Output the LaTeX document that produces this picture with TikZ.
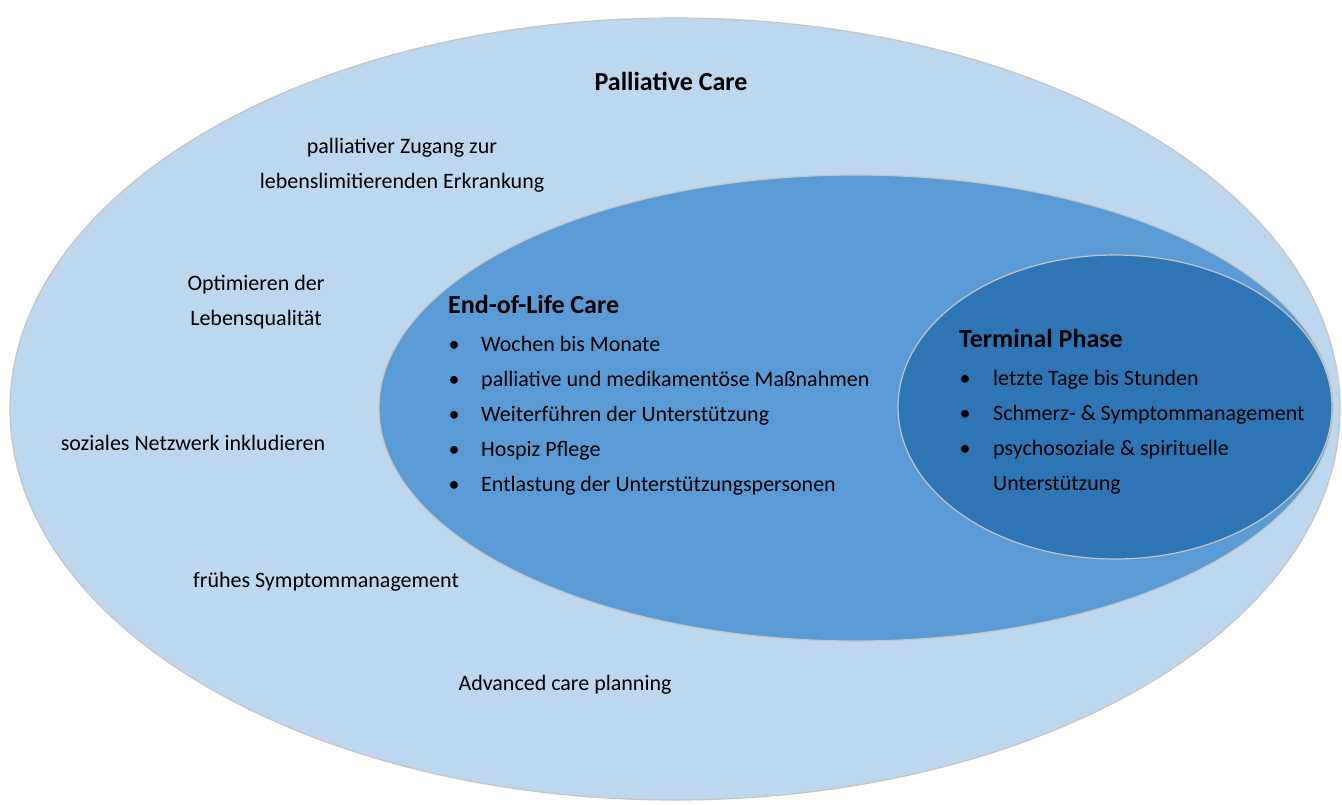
\documentclass[tikz,border=0pt]{standalone}
\usepackage{fontspec}
\setmainfont{Carlito}
\usetikzlibrary{positioning}
\definecolor{outerblue}{HTML}{BDD7EE}
\definecolor{midblue}{HTML}{5B9BD5}
\definecolor{innerblue}{HTML}{2E75B6}
\definecolor{rimgray}{HTML}{C4C4C4}

\begin{document}
\begin{tikzpicture}[x=1pt,y=-1pt]
	\tikzstyle{txt}=[inner sep=0pt,font=\fontsize{22}{35}\selectfont,align=center,anchor=base]
	\tikzstyle{head}=[inner sep=0pt,font=\fontsize{26}{30}\selectfont\bfseries,anchor=base west]
	\tikzstyle{item}=[inner sep=0pt,font=\fontsize{22}{35}\selectfont,anchor=base west]
	\tikzstyle{dot}=[inner sep=0pt,font=\fontsize{22}{35}\selectfont,anchor=base]
	\useasboundingbox (0,0) rectangle (1342,804);

	\filldraw[fill=outerblue,draw=rimgray,line width=1.2pt] (675,409) ellipse [x radius=665pt,y radius=391pt];
	\filldraw[fill=midblue,draw=rimgray,line width=1.2pt] (856,408) ellipse [x radius=477pt,y radius=233pt];
	\filldraw[fill=innerblue,draw=rimgray,line width=1.2pt] (1115,407) ellipse [x radius=217pt,y radius=152pt];

	\node[txt,font=\fontsize{26}{30}\selectfont\bfseries] (PC) at (671,90) {Palliative Care};
	\node[txt] (Z1) at (402,153) {palliativer Zugang zur};
	\node[txt] (Z2) at (402,188) {lebenslimitierenden Erkrankung};
	\node[txt] (O1) at (256,290) {Optimieren der};
	\node[txt] (O2) at (256,325) {Lebensqualität};
	\node[txt] (SN) at (193,450) {soziales Netzwerk inkludieren};
	\node[txt] (FS) at (326,587) {frühes Symptommanagement};
	\node[txt] (AC) at (565,690) {Advanced care planning};

	\node[head] (EOL) at (448,313) {End-of-Life Care};
	\foreach \t [count=\i] in {Wochen bis Monate,palliative und medikamentöse Maßnahmen,Weiterführen der Unterstützung,Hospiz Pflege,Entlastung der Unterstützungspersonen} {
		\node[dot] (eolb\i) at (454,316+35*\i) {•};
		\node[item] (eol\i) at (481,316+35*\i) {\t};
	}

	\node[head] (TP) at (959,347) {Terminal Phase};
	\foreach \t [count=\i] in {letzte Tage bis Stunden,Schmerz- \& Symptommanagement,psychosoziale \& spirituelle} {
		\node[dot] (tpb\i) at (965,350+35*\i) {•};
		\node[item] (tp\i) at (993,350+35*\i) {\t};
	}
	\node[item] (tp4) at (993,490) {Unterstützung};
\end{tikzpicture}
\end{document}
